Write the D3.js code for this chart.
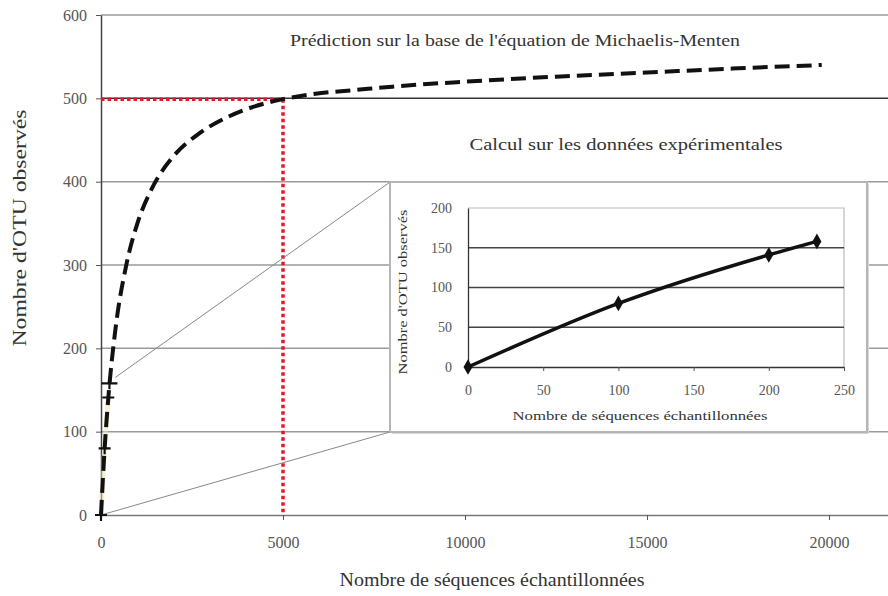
<!DOCTYPE html>
<html>
<head>
<meta charset="utf-8">
<script src="https://cdn.jsdelivr.net/npm/d3@7"></script>
<style>
  body { margin: 0; background: #fff; }
  text { font-family: "Liberation Serif", "DejaVu Serif", serif; }
</style>
</head>
<body>
<div id="chart"></div>
<script>
/////////////////////////////////////////////////////////////
//////////////////////// data ///////////////////////////////
/////////////////////////////////////////////////////////////
// prediction curve (Michaelis-Menten)
var predX = [0, 100, 200, 400, 700, 1000, 1400, 2000, 2700, 3500, 4200, 5000, 6000, 7000, 8000, 10000, 12500, 15000, 17500, 19800];
var predY = [0, 80, 140, 224, 301, 350, 392, 431, 458, 478, 490, 499, 506, 510, 514, 520, 526, 531, 536, 540];
// experimental points
var expX = [0, 100, 200, 232];
var expY = [0, 80, 141, 158];
// target lines
var targetX = 5000, targetY = 500;

var mainXTicks = [0, 5000, 10000, 15000, 20000];
var mainYTicks = [0, 100, 200, 300, 400, 500, 600];
var insetXTicks = [0, 50, 100, 150, 200, 250];
var insetYTicks = [0, 50, 100, 150, 200];

var titlePred = "Prédiction sur la base de l'équation de Michaelis-Menten";
var titleExp = "Calcul sur les données expérimentales";
var xTitle = "Nombre de séquences échantillonnées";
var yTitle = "Nombre d'OTU observés";

/////////////////////////////////////////////////////////////
//////////////////////// canvas /////////////////////////////
/////////////////////////////////////////////////////////////
var wdim = 888, hdim = 596;
var svg = d3.select("#chart").append("svg")
  .attr("width", wdim)
  .attr("height", hdim);

var x = d3.scaleLinear().domain([0, 21620]).range([101, 888]);
var y = d3.scaleLinear().domain([0, 600]).range([515, 15]);

// grid lines
svg.selectAll(".grid")
  .data(mainYTicks.slice(1))
  .enter().append("line")
  .attr("x1", x(0)).attr("x2", wdim)
  .attr("y1", function(d){ return y(d); })
  .attr("y2", function(d){ return y(d); })
  .attr("stroke", function(d){ return d == 500 ? "#333" : "#9a9a9a"; })
  .attr("stroke-width", 1.5);

// axes
var xAxis = svg.append("g")
  .attr("transform", "translate(0," + y(0) + ")")
  .call(d3.axisBottom(x).tickValues(mainXTicks).tickFormat(d3.format("d"))
    .tickSize(5).tickSizeOuter(0).tickPadding(17));
var yAxis = svg.append("g")
  .attr("transform", "translate(" + x(0) + ",0)")
  .call(d3.axisLeft(y).tickValues(mainYTicks).tickFormat(d3.format("d"))
    .tickSize(5).tickSizeOuter(0).tickPadding(9));

xAxis.select(".domain").attr("stroke", "#777").attr("stroke-width", 1.5);
yAxis.select(".domain").attr("stroke", "#444").attr("stroke-width", 1.5);
svg.selectAll(".tick line").attr("stroke", "#555");
svg.selectAll(".tick text")
  .style("font-family", "Liberation Serif")
  .style("font-size", "16px")
  .attr("fill", "#555");

// axis titles
svg.append("text")
  .attr("x", 492).attr("y", 586)
  .attr("text-anchor", "middle")
  .style("font-size", "19px")
  .attr("fill", "#333")
  .attr("textLength", 305).attr("lengthAdjust", "spacingAndGlyphs")
  .text(xTitle);
svg.append("text")
  .attr("transform", "translate(26,228) rotate(-90)")
  .attr("text-anchor", "middle")
  .style("font-size", "19px")
  .attr("fill", "#333")
  .attr("textLength", 237).attr("lengthAdjust", "spacingAndGlyphs")
  .text(yTitle);

// red dotted target lines
svg.append("path")
  .attr("d", "M" + x(0) + "," + (y(targetY) + 1) + "H" + x(targetX) + "V" + y(0))
  .attr("fill", "none")
  .attr("stroke", "#e3192b")
  .attr("stroke-width", 3.5)
  .attr("stroke-dasharray", "3.5,3");

// zoom connector lines towards inset
var box = {x0: 390, y0: 182, x1: 867, y1: 432};
svg.append("line")
  .attr("x1", x(expX[3]) + 6).attr("y1", y(expY[3]) - 6)
  .attr("x2", box.x0).attr("y2", box.y0)
  .attr("stroke", "#888").attr("stroke-width", 1);
svg.append("line")
  .attr("x1", x(0)).attr("y1", y(0))
  .attr("x2", box.x0).attr("y2", box.y1)
  .attr("stroke", "#888").attr("stroke-width", 1);

// prediction curve
var predData = predX.map(function(d, i){ return [d, predY[i]]; });
var line = d3.line()
  .x(function(d){ return x(d[0]); })
  .y(function(d){ return y(d[1]); })
  .curve(d3.curveMonotoneX);

svg.append("path")
  .datum(predData.slice(0, 3))
  .attr("d", line)
  .attr("fill", "none")
  .attr("stroke", "#efe3b0")
  .attr("stroke-width", 5)
  .attr("opacity", 0.5);

svg.append("path")
  .datum(predData)
  .attr("d", line)
  .attr("fill", "none")
  .attr("stroke", "#111")
  .attr("stroke-width", 4)
  .attr("stroke-dasharray", "15,7");

// experimental markers on main chart
svg.selectAll(".plus")
  .data(expX)
  .enter().append("path")
  .attr("d", function(d, i){
    var px = x(d), py = y(expY[i]), w = (i == 3) ? 8 : 6;
    return "M" + (px - w) + "," + py + "H" + (px + w) + "M" + px + "," + (py - 6) + "V" + (py + 6);
  })
  .attr("stroke", "#111")
  .attr("stroke-width", 2.2);

// annotations
svg.append("text")
  .attr("x", 515).attr("y", 46)
  .attr("text-anchor", "middle")
  .style("font-size", "16px")
  .attr("fill", "#333")
  .attr("textLength", 450).attr("lengthAdjust", "spacingAndGlyphs")
  .text(titlePred);
svg.append("text")
  .attr("x", 626).attr("y", 150)
  .attr("text-anchor", "middle")
  .style("font-size", "16px")
  .attr("fill", "#333")
  .attr("textLength", 313).attr("lengthAdjust", "spacingAndGlyphs")
  .text(titleExp);

/////////////////////////////////////////////////////////////
//////////////////////// inset //////////////////////////////
/////////////////////////////////////////////////////////////
svg.append("rect")
  .attr("x", box.x0 + 2).attr("y", box.y0 + 2)
  .attr("width", box.x1 - box.x0).attr("height", box.y1 - box.y0)
  .attr("fill", "#d8d8d8");
svg.append("rect")
  .attr("x", box.x0).attr("y", box.y0)
  .attr("width", box.x1 - box.x0).attr("height", box.y1 - box.y0)
  .attr("fill", "#fff")
  .attr("stroke", "#b5b5b5")
  .attr("stroke-width", 2);

var ix = d3.scaleLinear().domain([0, 250]).range([468, 844]);
var iy = d3.scaleLinear().domain([0, 200]).range([367, 208]);

// plot area frame (top / right)
svg.append("path")
  .attr("d", "M" + ix(0) + "," + iy(200) + "H" + ix(250) + "V" + iy(0))
  .attr("fill", "none")
  .attr("stroke", "#bbb")
  .attr("stroke-width", 1.2);

svg.selectAll(".igrid")
  .data(insetYTicks.slice(1, 4))
  .enter().append("line")
  .attr("x1", ix(0)).attr("x2", ix(250))
  .attr("y1", function(d){ return iy(d); })
  .attr("y2", function(d){ return iy(d); })
  .attr("stroke", "#444")
  .attr("stroke-width", 1.3);

var ixAxis = svg.append("g")
  .attr("transform", "translate(0," + iy(0) + ")")
  .call(d3.axisBottom(ix).tickValues(insetXTicks).tickSize(4).tickSizeOuter(0).tickPadding(14));
var iyAxis = svg.append("g")
  .attr("transform", "translate(" + ix(0) + ",0)")
  .call(d3.axisLeft(iy).tickValues(insetYTicks).tickSize(0).tickPadding(16));
ixAxis.select(".domain").attr("stroke", "#333").attr("stroke-width", 1.3);
iyAxis.select(".domain").attr("stroke", "#333").attr("stroke-width", 1.3);
ixAxis.selectAll(".tick line").attr("stroke", "#555");
[ixAxis, iyAxis].forEach(function(a){
  a.selectAll(".tick text")
    .style("font-family", "Liberation Serif")
    .style("font-size", "14px")
    .attr("fill", "#555");
});

svg.append("text")
  .attr("x", 640).attr("y", 420)
  .attr("text-anchor", "middle")
  .style("font-size", "13px")
  .attr("fill", "#333")
  .attr("textLength", 255).attr("lengthAdjust", "spacingAndGlyphs")
  .text(xTitle);
svg.append("text")
  .attr("transform", "translate(407,292) rotate(-90)")
  .attr("text-anchor", "middle")
  .style("font-size", "12px")
  .attr("fill", "#333")
  .attr("textLength", 165).attr("lengthAdjust", "spacingAndGlyphs")
  .text(yTitle);

var expData = expX.map(function(d, i){ return [d, expY[i]]; });
svg.append("path")
  .datum(expData)
  .attr("d", d3.line()
    .x(function(d){ return ix(d[0]); })
    .y(function(d){ return iy(d[1]); })
    .curve(d3.curveMonotoneX))
  .attr("fill", "none")
  .attr("stroke", "#111")
  .attr("stroke-width", 3.5);

svg.selectAll(".diamond")
  .data(expData)
  .enter().append("path")
  .attr("transform", function(d){ return "translate(" + ix(d[0]) + "," + iy(d[1]) + ")"; })
  .attr("d", d3.symbol().type(d3.symbolDiamond).size(70))
  .attr("fill", "#111");
</script>
</body>
</html>
